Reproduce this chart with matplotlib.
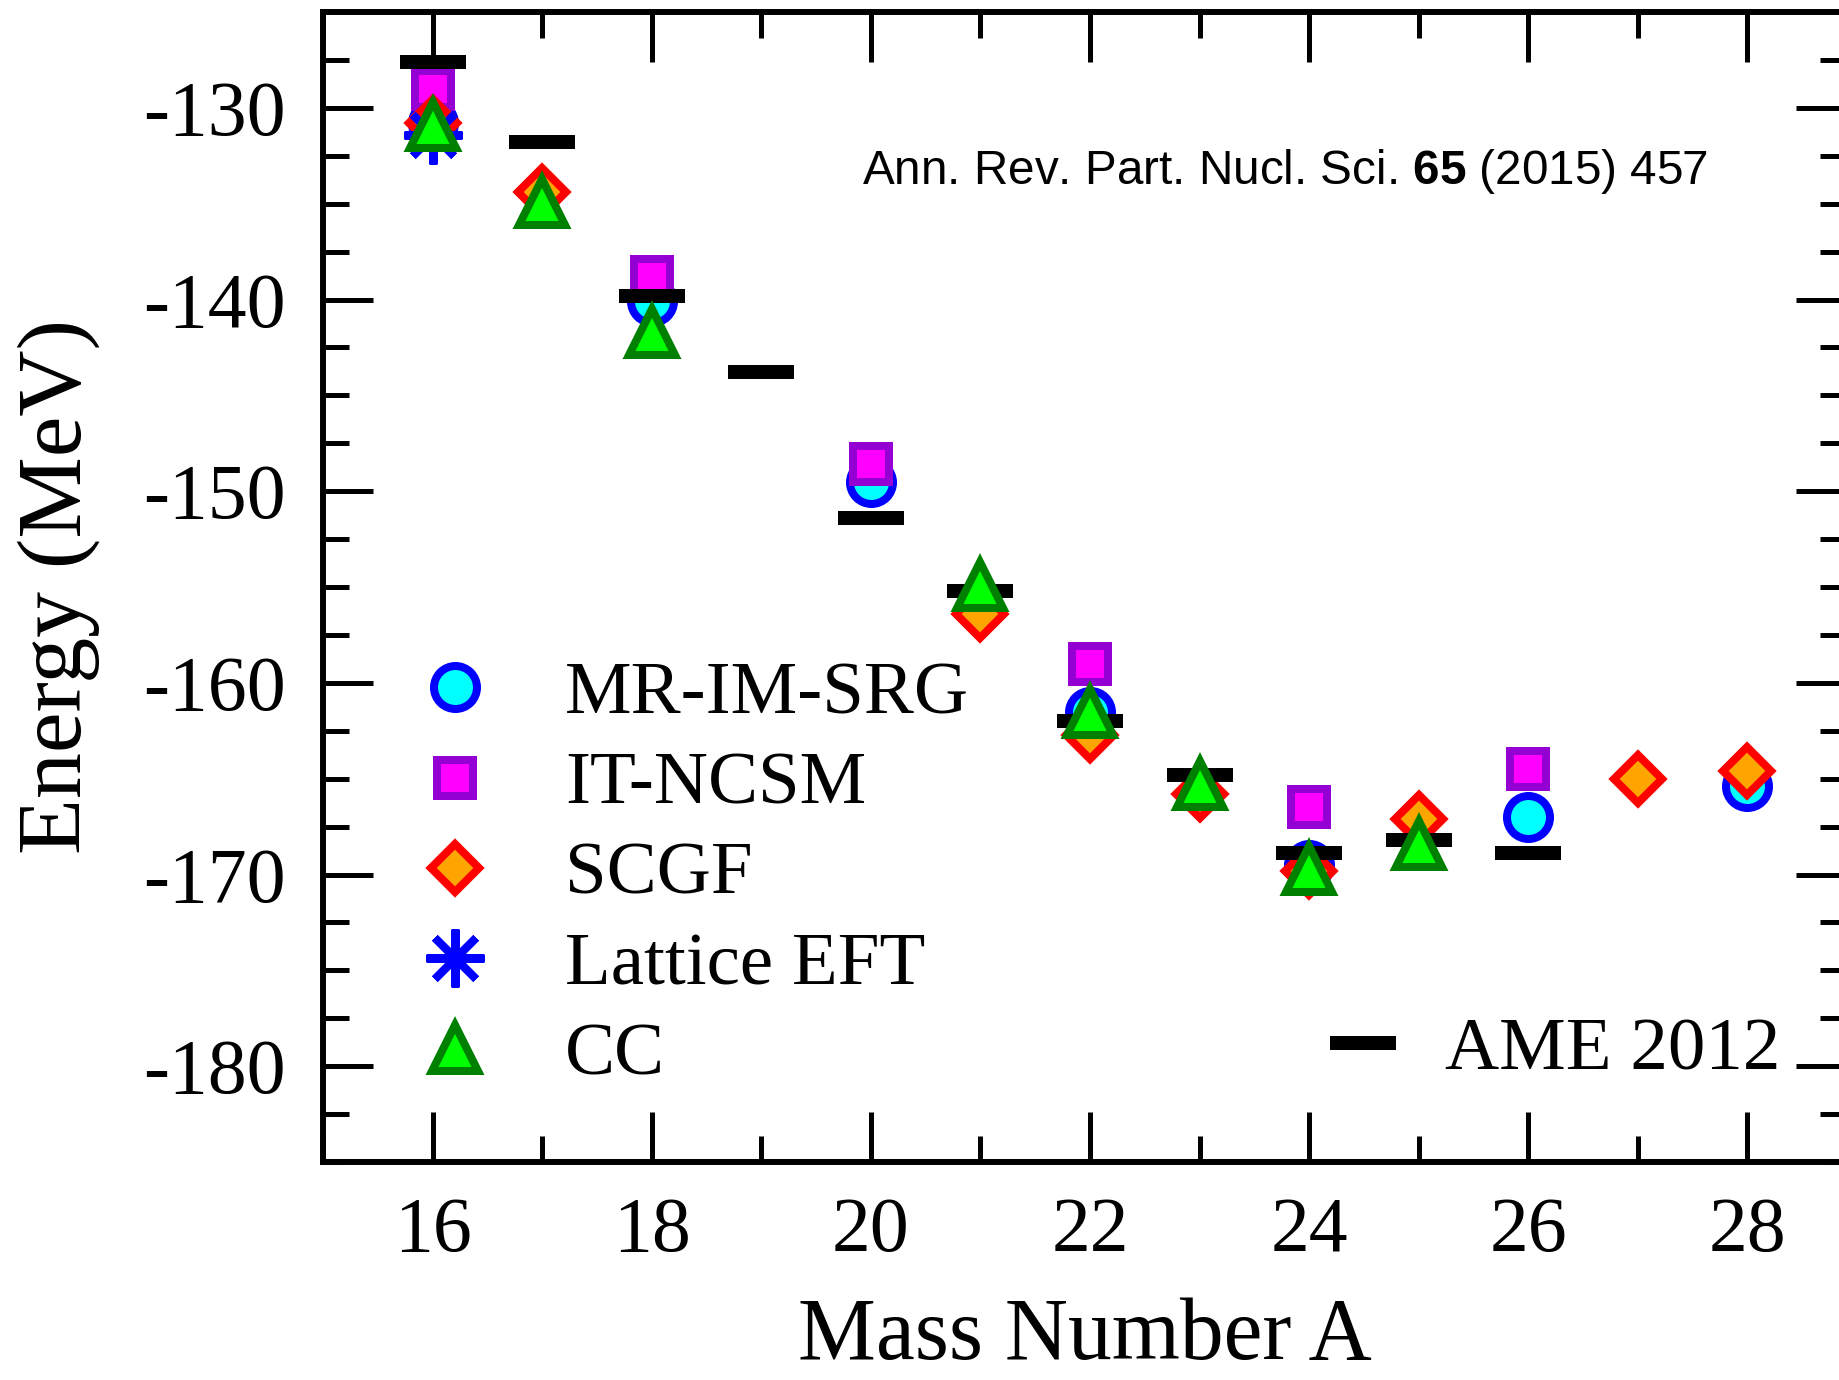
import matplotlib
matplotlib.use("Agg")
import matplotlib.pyplot as plt
from matplotlib.ticker import MultipleLocator, FuncFormatter

# ---------------- data ----------------
A_mrimsrg = [16, 18, 20, 22, 24, 26, 28]
E_mrimsrg = [-130.8, -140.1, -149.5, -161.5, -169.5, -167.0, -165.4]

A_itncsm = [16, 18, 20, 22, 24, 26]
E_itncsm = [-129.0, -138.8, -148.6, -159.0, -166.5, -164.5]

A_scgf = [16, 17, 21, 22, 23, 24, 25, 27, 28]
E_scgf = [-130.8, -134.4, -156.4, -162.7, -165.8, -169.8, -167.1, -165.0, -164.6]

A_lattice = [16]
E_lattice = [-131.4]

A_cc = [16, 17, 18, 21, 22, 23, 24, 25]
E_cc = [-130.9, -134.9, -141.7, -154.9, -161.5, -165.3, -169.7, -168.4]

A_ame = [16, 17, 18, 19, 20, 21, 22, 23, 24, 25, 26]
E_ame = [-127.6, -131.8, -139.8, -143.8, -151.4, -155.2, -162.0, -164.8, -168.9, -168.2, -168.9]

labels = ["MR-IM-SRG", "IT-NCSM", "SCGF", "Lattice EFT", "CC"]
ame_label = "AME 2012"
xticks = [16, 18, 20, 22, 24, 26, 28]
yticks = [-180, -170, -160, -150, -140, -130]

# ---------------- style ----------------
plt.rcParams["font.family"] = ["Liberation Serif", "DejaVu Serif"]
plt.rcParams["mathtext.fontset"] = "custom"
plt.rcParams["mathtext.rm"] = "Liberation Sans"
plt.rcParams["mathtext.bf"] = "Liberation Sans:bold"

W, H = 1840, 1380
fig = plt.figure(figsize=(W / 100, H / 100), dpi=100)
ax = fig.add_axes([323 / W, 1 - 1162 / H, (1846 - 323) / W, (1162 - 12) / H])

P = 0.72  # points per pixel
mew = 8 * P

styles = {
    "MR-IM-SRG": dict(marker="o", ms=43 * P, mfc="#00ffff", mec="#0000ff", mew=mew, zorder=3),
    "IT-NCSM": dict(marker="s", ms=36 * P, mfc="#ff00ff", mec="#9400d3", mew=mew, zorder=4),
    "SCGF": dict(marker="D", ms=34 * P, mfc="#ffa500", mec="#ff0000", mew=mew, zorder=5),
    "Lattice EFT": dict(marker=(8, 2, 0), ms=58 * P, color="#0000ff", mec="#0000ff", mew=mew, zorder=6),
    "CC": dict(marker="^", ms=47 * P, mfc="#00ff00", mec="#008000", mew=mew, zorder=8),
}
ame_style = dict(marker="_", ms=66 * P, color="black", mec="black", mew=14 * P, zorder=7)

series = {
    "MR-IM-SRG": (A_mrimsrg, E_mrimsrg),
    "IT-NCSM": (A_itncsm, E_itncsm),
    "SCGF": (A_scgf, E_scgf),
    "Lattice EFT": (A_lattice, E_lattice),
    "CC": (A_cc, E_cc),
}

handles = []
for lab in labels:
    xs, ys = series[lab]
    h, = ax.plot(xs, ys, linestyle="none", label=lab, **styles[lab])
    handles.append(h)
h_ame, = ax.plot(A_ame, E_ame, linestyle="none", label=ame_label, **ame_style)

ax.set_xlim(15, 28.9)
ax.set_ylim(-185, -125)

ax.xaxis.set_major_locator(plt.FixedLocator(xticks))
ax.xaxis.set_minor_locator(MultipleLocator(1))
ax.yaxis.set_major_locator(plt.FixedLocator(yticks))
ax.yaxis.set_minor_locator(MultipleLocator(2.5))
ax.xaxis.set_major_formatter(FuncFormatter(lambda v, p: f"{int(round(v))}"))
ax.yaxis.set_major_formatter(FuncFormatter(lambda v, p: f"{int(round(v))}"))

ax.tick_params(which="both", direction="in", top=True, right=True, width=3.6, labelsize=56)
ax.tick_params(which="major", length=36)
ax.tick_params(which="minor", length=19)
ax.tick_params(axis="y", which="major", pad=27)
ax.tick_params(axis="x", which="major", pad=25)
for s in ax.spines.values():
    s.set_linewidth(4.3)

ax.set_xlabel("Mass Number A", fontsize=63, labelpad=21)
ax.set_ylabel("Energy (MeV)", fontsize=66, labelpad=31)

fs_leg = 54
leg1 = ax.legend(handles=handles, loc="upper left",
                 bbox_to_anchor=(417.5 / W, 1 - 661 / H), bbox_transform=fig.transFigure,
                 frameon=False, fontsize=fs_leg, numpoints=1, handlelength=1.0,
                 handletextpad=0.97, labelspacing=0.29, borderpad=0, borderaxespad=0)
ax.add_artist(leg1)
ax.legend(handles=[h_ame], loc="center left",
          bbox_to_anchor=(1326 / W, 1 - 1051 / H), bbox_transform=fig.transFigure,
          frameon=False, fontsize=fs_leg, numpoints=1, handlelength=1.0,
          handletextpad=0.59, borderpad=0, borderaxespad=0)

fig.text(862 / W, 1 - 184 / H, r"Ann. Rev. Part. Nucl. Sci. $\mathbf{65}$ (2015) 457",
         fontsize=34.3, family="Liberation Sans", va="baseline", ha="left")

fig.savefig("out.png", dpi=100)
